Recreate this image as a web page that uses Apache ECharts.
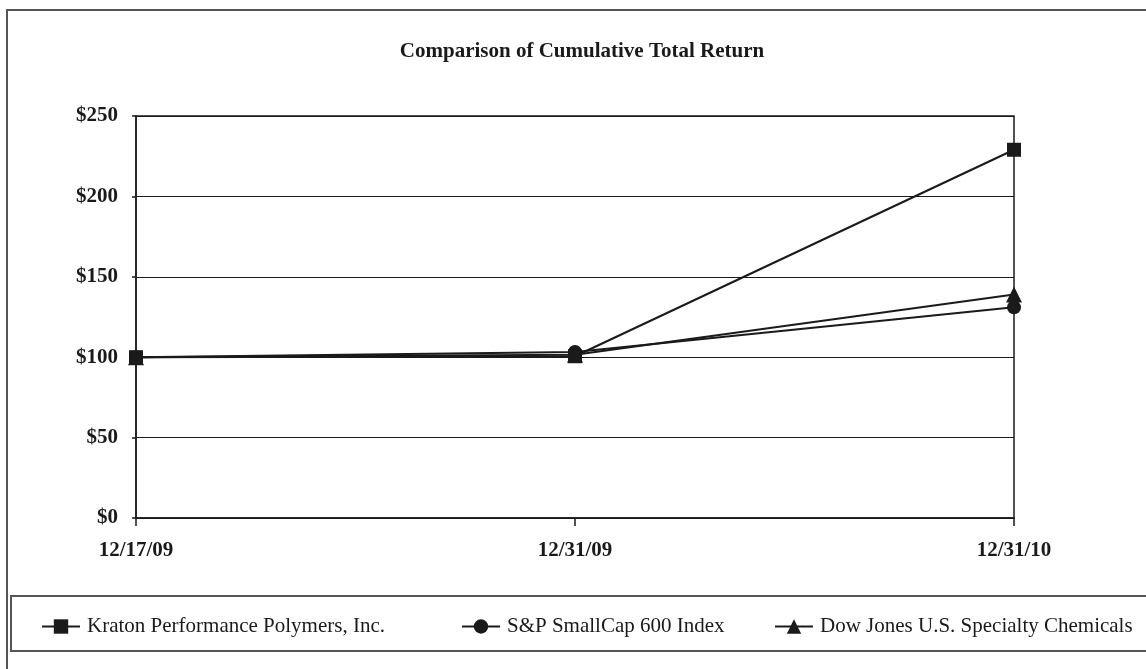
<!DOCTYPE html>
<html>
<head>
<meta charset="utf-8">
<script src="https://cdn.jsdelivr.net/npm/echarts@6/dist/echarts.min.js"></script>
<style>
html,body{margin:0;padding:0;background:#fff;}
#chart{width:1146px;height:669px;}
</style>
</head>
<body>
<div id="chart"></div>
<script>
var categories = ['12/17/09', '12/31/09', '12/31/10'];
var kraton = [100, 100.6, 229];
var sp600 = [100, 103.3, 131];
var djChem = [100, 101.5, 139];
var seriesNames = ['Kraton Performance Polymers, Inc.', 'S&P SmallCap 600 Index', 'Dow Jones U.S. Specialty Chemicals'];
var yTicks = [0, 50, 100, 150, 200, 250];

var serif = '"Liberation Serif", "Times New Roman", serif';
var chart = echarts.init(document.getElementById('chart'));

function mkSeries(name, data, symbol, size, z) {
  return {
    name: name,
    type: 'line',
    data: data,
    symbol: symbol,
    symbolSize: size,
    showAllSymbol: true,
    z: z,
    lineStyle: {color: '#1a1a1a', width: 2},
    itemStyle: {color: '#1a1a1a'},
    emphasis: {disabled: true},
    animation: false
  };
}

function mkLegend(name, left) {
  return {
    data: [name],
    left: left,
    top: 611,
    itemWidth: 38,
    itemHeight: 18,
    textStyle: {fontFamily: serif, fontSize: 21, color: '#1a1a1a', padding: [0, 0, 0, 2]},
    selectedMode: false
  };
}

chart.setOption({
  animation: false,
  backgroundColor: '#fff',
  title: {
    text: 'Comparison of Cumulative Total Return',
    left: 577,
    textAlign: 'center',
    top: 36,
    textStyle: {fontFamily: serif, fontSize: 21, fontWeight: 'bold', color: '#1a1a1a'}
  },
  grid: {
    left: 136, right: 132, top: 116, bottom: 151,
    show: true, borderColor: '#1a1a1a', borderWidth: 1.5, backgroundColor: 'transparent'
  },
  legend: [
    mkLegend(seriesNames[0], 36),
    mkLegend(seriesNames[1], 456),
    mkLegend(seriesNames[2], 769)
  ],
  xAxis: {
    type: 'category',
    data: categories,
    boundaryGap: false,
    axisLine: {lineStyle: {color: '#1a1a1a', width: 1.5}},
    axisTick: {show: true, length: 8, alignWithLabel: true, lineStyle: {color: '#1a1a1a', width: 1.5}},
    axisLabel: {fontFamily: serif, fontSize: 21, fontWeight: 'bold', color: '#1a1a1a', margin: 22},
    splitLine: {show: false}
  },
  yAxis: {
    type: 'value',
    min: yTicks[0],
    max: yTicks[yTicks.length - 1],
    interval: 50,
    axisLine: {show: true, lineStyle: {color: '#1a1a1a', width: 1.5}},
    axisTick: {show: true, length: 4, lineStyle: {color: '#1a1a1a', width: 1.5}},
    axisLabel: {fontFamily: serif, fontSize: 21, fontWeight: 'bold', color: '#1a1a1a', margin: 18,
      formatter: function (v) { return '$' + v; }},
    splitLine: {show: true, lineStyle: {color: '#1a1a1a', width: 1}}
  },
  graphic: [
    {type: 'rect', shape: {x: 7, y: 10, width: 1150, height: 680}, style: {fill: 'none', stroke: '#555', lineWidth: 2}, silent: true, z: -1},
    {type: 'rect', shape: {x: 11, y: 596, width: 1140, height: 55}, style: {fill: 'none', stroke: '#555', lineWidth: 2}, silent: true, z: -1}
  ],
  series: [
    mkSeries(seriesNames[0], kraton, 'rect', 14, 3),
    mkSeries(seriesNames[1], sp600, 'circle', 14, 4),
    mkSeries(seriesNames[2], djChem, 'triangle', 16, 2)
  ]
});
</script>
</body>
</html>
